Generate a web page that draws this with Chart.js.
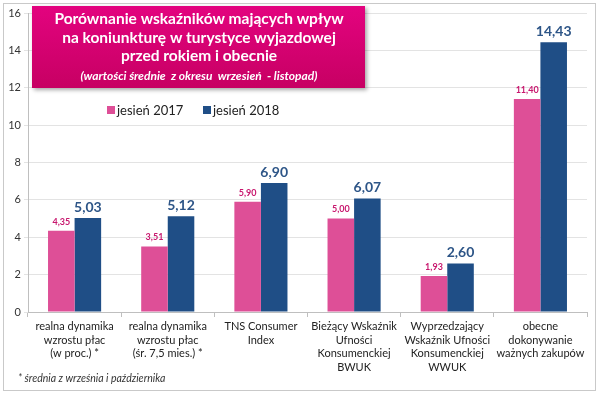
<!DOCTYPE html>
<html>
<head>
<meta charset="utf-8">
<script src="https://cdn.jsdelivr.net/npm/chart.js@4/dist/chart.umd.min.js"></script>
<style>
  html, body { margin: 0; padding: 0; background: #fff; }
  #wrap { position: relative; width: 600px; height: 394px; }
  #frame { position: absolute; left: 3px; top: 3px; width: 591px; height: 386px;
           border: 1px solid #c9c9c9; pointer-events: none; }
</style>
</head>
<body>
<div id="wrap">
  <canvas id="chart" width="600" height="394"></canvas>
  <div id="frame"></div>
</div>
<script>
// ── dane ────────────────────────────────
const kategorie = [
  ['realna dynamika', 'wzrostu płac', '(w proc.) *'],
  ['realna dynamika', 'wzrostu płac', '(śr. 7,5 mies.) *'],
  ['TNS Consumer', 'Index'],
  ['Bieżący Wskaźnik', 'Ufności', 'Konsumenckiej', 'BWUK'],
  ['Wyprzedzający', 'Wskaźnik Ufności', 'Konsumenckiej', 'WWUK'],
  ['obecne', 'dokonywanie', 'ważnych zakupów']
];
const jesien2017 = [4.35, 3.51, 5.90, 5.00, 1.93, 11.40];
const jesien2018 = [5.03, 5.12, 6.90, 6.07, 2.60, 14.43];
const tytul = [
  'Porównanie wskaźników mających wpływ',
  'na koniunkturę w turystyce wyjazdowej',
  'przed rokiem i obecnie'
];
const podtytul = '(wartości średnie  z okresu  wrzesień  - listopad)';
const przypis = '* średnia z września i października';

const FONT = 'Lato, "Open Sans", sans-serif';
const fmt = v => v.toFixed(2).replace('.', ',');

// ── etykiety wartości nad słupkami ──────
const etykiety = {
  id: 'etykiety',
  afterDatasetsDraw(chart) {
    const ctx = chart.ctx;
    ctx.save();
    ctx.textAlign = 'center';
    ctx.textBaseline = 'middle';
    chart.data.datasets.forEach((ds, di) => {
      chart.getDatasetMeta(di).data.forEach((bar, i) => {
        ctx.fillStyle = ds.labelColor;
        ctx.font = ds.labelFont;
        ctx.fillText(fmt(ds.data[i]), bar.x, bar.y - ds.labelGap);
      });
    });
    ctx.restore();
  }
};

// ── tytuł, legenda, przypis ─────────────
const dodatki = {
  id: 'dodatki',
  afterDraw(chart) {
    const ctx = chart.ctx;
    ctx.save();
    // ramka tytułu
    ctx.shadowColor = 'rgba(0,0,0,0.35)';
    ctx.shadowBlur = 4;
    ctx.shadowOffsetX = 2;
    ctx.shadowOffsetY = 2;
    const g = ctx.createLinearGradient(0, 6, 0, 88);
    g.addColorStop(0, '#e3037f');
    g.addColorStop(1, '#c70063');
    ctx.fillStyle = g;
    ctx.fillRect(32, 6, 333, 82);
    ctx.shadowColor = 'transparent';
    ctx.fillStyle = '#fff';
    ctx.textAlign = 'center';
    ctx.textBaseline = 'middle';
    ctx.font = 'bold 15.5px ' + FONT;
    tytul.forEach((t, i) => ctx.fillText(t, 199, 19 + i * 18.5));
    ctx.font = 'italic bold 12px ' + FONT;
    ctx.fillText(podtytul, 199, 76);

    // legenda
    let x = 107;
    ctx.textAlign = 'left';
    ctx.font = '13px ' + FONT;
    chart.data.datasets.forEach(ds => {
      ctx.fillStyle = ds.backgroundColor;
      ctx.fillRect(x, 106, 8, 8);
      ctx.fillStyle = '#222';
      ctx.fillText(ds.label, x + 10, 110.5);
      x += 96;
    });

    // przypis
    ctx.font = 'italic 10.5px ' + FONT;
    ctx.fillStyle = '#333';
    ctx.fillText(przypis, 18, 379);
    ctx.restore();
  }
};

new Chart(document.getElementById('chart').getContext('2d'), {
  type: 'bar',
  data: {
    labels: kategorie,
    datasets: [
      {
        label: 'jesień 2017',
        data: jesien2017,
        backgroundColor: '#de4f97',
        labelColor: '#c8176e',
        labelFont: 'bold 9px ' + FONT,
        labelGap: 9
      },
      {
        label: 'jesień 2018',
        data: jesien2018,
        backgroundColor: '#1f4e86',
        labelColor: '#2d5587',
        labelFont: 'bold 14px ' + FONT,
        labelGap: 11
      }
    ]
  },
  options: {
    responsive: false,
    animation: false,
    layout: { padding: { top: 13, right: 13, bottom: 12, left: 0 } },
    datasets: { bar: { categoryPercentage: 0.57, barPercentage: 1 } },
    plugins: {
      legend: { display: false },
      tooltip: { enabled: false }
    },
    scales: {
      x: {
        grid: { drawOnChartArea: false, tickLength: 5, color: '#bfbfbf' },
        border: { color: '#bfbfbf' },
        ticks: { color: '#222', font: { family: FONT, size: 11, lineHeight: 1.27 }, padding: 2, maxRotation: 0, autoSkip: false },
        afterFit: s => { s.height = 70; }
      },
      y: {
        min: 0, max: 16,
        ticks: { stepSize: 2, color: '#333', font: { family: FONT, size: 11 }, padding: 3 },
        grid: { color: '#e3e3e3', tickLength: 4 },
        border: { color: '#bfbfbf' },
        afterFit: s => { s.width = 28; }
      }
    }
  },
  plugins: [etykiety, dodatki]
});
</script>
</body>
</html>
